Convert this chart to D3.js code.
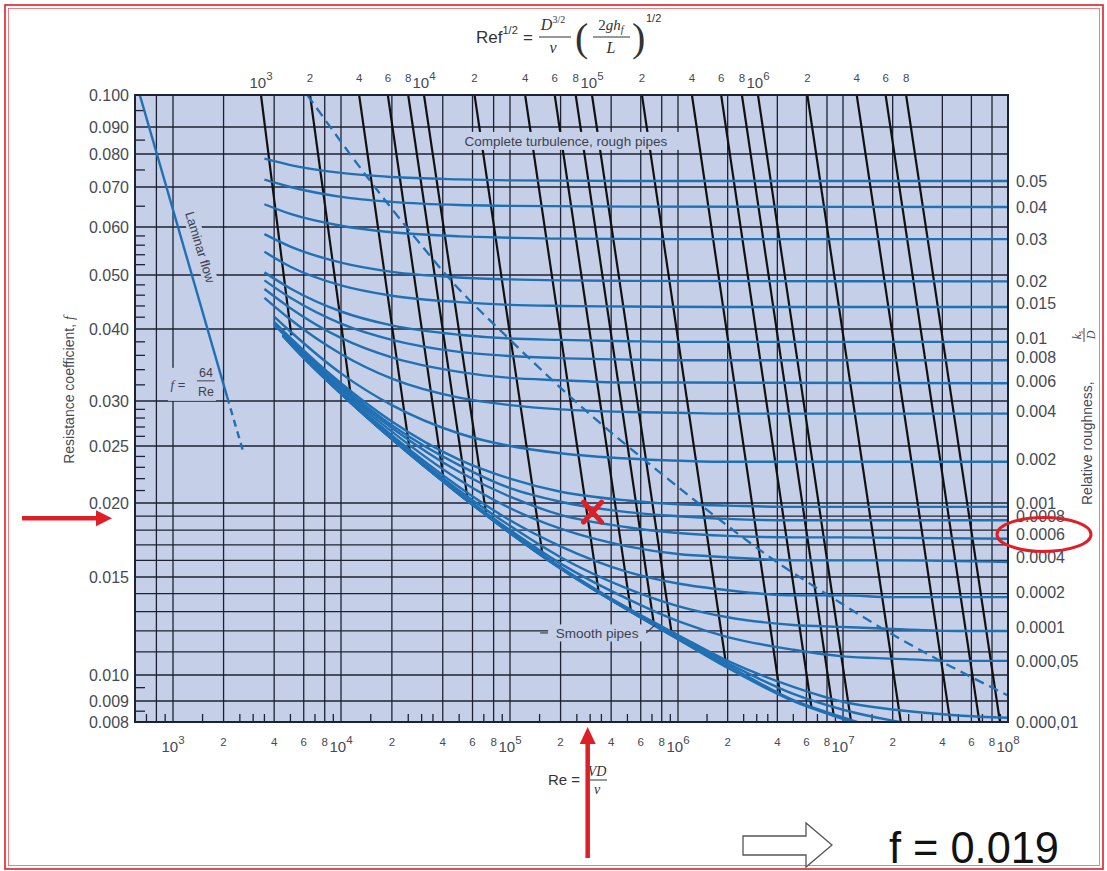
<!DOCTYPE html>
<html>
<head>
<meta charset="utf-8">
<script src="https://cdn.jsdelivr.net/npm/d3@7"></script>
<style>
  body { margin: 0; background: #fff; }
  svg { display: block; font-family: "Liberation Sans", Arial, sans-serif; }
</style>
</head>
<body>
<svg id="chart" width="1107" height="871"></svg>
<script>
// ---- data ----

// bottom axis, Reynolds number
const reTicks = [1e3, 2e3, 4e3, 6e3, 8e3, 1e4, 2e4, 4e4, 6e4, 8e4, 1e5, 2e5, 4e5, 6e5, 8e5,
                 1e6, 2e6, 4e6, 6e6, 8e6, 1e7, 2e7, 4e7, 6e7, 8e7, 1e8];
const reGrid = [800, 1e3, 2e3, 4e3, 6e3, 8e3, 1e4, 2e4, 4e4, 6e4, 8e4, 1e5, 2e5, 4e5, 6e5, 8e5,
                1e6, 2e6, 4e6, 6e6, 8e6, 1e7, 2e7, 4e7, 6e7, 8e7];
const reMinorMult = [1.5, 2.5, 3, 3.5, 5, 7, 9];

// top axis, Re f^1/2 (one black line per value)
const topTicks = [1e3, 2e3, 4e3, 6e3, 8e3, 1e4, 2e4, 4e4, 6e4, 8e4, 1e5, 2e5, 4e5, 6e5, 8e5,
                  1e6, 2e6, 4e6, 6e6, 8e6];
// where each black line stops: [Re f^1/2, Re, f]
const blackLines = [
  [1e3, 5.06e3, 0.0390], [2e3, 1.16e4, 0.0297], [4e3, 2.56e4, 0.0244], [6e3, 4.05e4, 0.0219],
  [8e3, 5.6e4, 0.0204], [1e4, 7.2e4, 0.0193], [2e4, 1.56e5, 0.0164], [4e4, 3.36e5, 0.0142],
  [6e4, 5.25e5, 0.0130], [8e4, 7.2e5, 0.0123], [1e5, 9.2e5, 0.0118], [2e5, 1.96e6, 0.0104],
  [4e5, 4.16e6, 0.00924], [6e5, 6.45e6, 0.00864], [8e5, 8.8e6, 0.00826], [1e6, 1.12e7, 0.008],
  [2e6, 2.24e7, 0.008], [4e6, 4.47e7, 0.008], [6e6, 6.71e7, 0.008], [8e6, 8.94e7, 0.008]
];

// left axis, resistance coefficient
const fTicks = [0.1, 0.09, 0.08, 0.07, 0.06, 0.05, 0.04, 0.03, 0.025, 0.02, 0.015, 0.01, 0.009, 0.008];
const fTickLabels = ["0.100", "0.090", "0.080", "0.070", "0.060", "0.050", "0.040", "0.030",
                     "0.025", "0.020", "0.015", "0.010", "0.009", "0.008"];
const fGrid = [0.09, 0.08, 0.07, 0.06, 0.05, 0.04, 0.03, 0.025, 0.02, 0.019, 0.018, 0.017, 0.016,
               0.015, 0.014, 0.013, 0.012, 0.011, 0.01, 0.009];
const fMinor = [0.095, 0.085, 0.075, 0.065, 0.058, 0.056, 0.054, 0.052, 0.048, 0.046, 0.044, 0.042,
                0.038, 0.036, 0.034, 0.032, 0.029, 0.028, 0.027, 0.026, 0.024, 0.023, 0.022, 0.021,
                0.0095, 0.0085];

// relative roughness curves, [Re, f]
const c05 = [[3.5e3, .0785], [5e3, .0765], [1e4, .0741], [2e4, .0729], [5e4, .0722], [1e5, .0719], [5e5, .0717], [1e8, .0717]];
const c04 = [[3.5e3, .0721], [5e3, .0700], [1e4, .0674], [2e4, .0661], [5e4, .0653], [1e5, .0651], [5e5, .0649], [1e8, .0648]];
const c03 = [[3.5e3, .0655], [5e3, .0631], [1e4, .0603], [2e4, .0588], [5e4, .0579], [1e5, .0576], [2e5, .0574], [1e6, .0573], [1e8, .0573]];
const c02 = [[3.5e3, .0584], [5e3, .0557], [1e4, .0524], [2e4, .0506], [5e4, .0495], [1e5, .0491], [2e5, .0489], [5e5, .0488], [1e8, .0487]];
const c015 = [[3.5e3, .0546], [5e3, .0516], [1e4, .0479], [2e4, .0459], [5e4, .0447], [1e5, .0442], [2e5, .0440], [5e5, .0439], [2e6, .0438], [1e8, .0438]];
const c01 = [[3.5e3, .0505], [5e3, .0473], [1e4, .0430], [2e4, .0406], [5e4, .0391], [1e5, .0385], [2e5, .0383], [5e5, .0381], [1e6, .0380], [1e8, .0380]];
const c008 = [[3.5e3, .0489], [5e3, .0455], [1e4, .0409], [2e4, .0383], [5e4, .0365], [1e5, .0359], [2e5, .0356], [5e5, .0354], [1e6, .0353], [1e8, .0353]];
const c006 = [[3.5e3, .0472], [5e3, .0436], [1e4, .0386], [2e4, .0357], [5e4, .0337], [1e5, .0329], [2e5, .0326], [5e5, .0323], [1e6, .0323], [1e8, .0322]];
const c004 = [[3.5e3, .0455], [5e3, .0416], [1e4, .0362], [2e4, .0328], [5e4, .0304], [1e5, .0295], [2e5, .0290], [5e5, .0287], [1e6, .0286], [2e6, .0285], [1e8, .0285]];
const c002 = [[4e3, .0421], [5e3, .0396], [1e4, .0335], [2e4, .0295], [5e4, .0263], [1e5, .0250], [2e5, .0243], [5e5, .0238], [1e6, .0236], [2e6, .0235], [1e7, .0235], [1e8, .0235]];
const c001 = [[4e3, .0412], [5e3, .0386], [1e4, .0322], [2e4, .0276], [5e4, .0237], [1e5, .0220], [2e5, .0209], [5e5, .0202], [1e6, .0199], [2e6, .0198], [5e6, .0197], [1e8, .0197]];
const c0008 = [[4e3, .0410], [5e3, .0384], [1e4, .0319], [2e4, .0272], [5e4, .0232], [1e5, .0212], [2e5, .0201], [5e5, .0193], [1e6, .0190], [2e6, .0188], [5e6, .0187], [1e7, .0187], [1e8, .0187]];
const c0006 = [[4e3, .0409], [5e3, .0382], [1e4, .0316], [2e4, .0269], [5e4, .0226], [1e5, .0205], [2e5, .0191], [5e5, .0182], [1e6, .0178], [2e6, .0176], [5e6, .0175], [1e7, .0175], [1e8, .0174]];
const c0004 = [[4e3, .0407], [5e3, .0381], [1e4, .0314], [2e4, .0265], [5e4, .0219], [1e5, .0196], [2e5, .0181], [5e5, .0169], [1e6, .0164], [2e6, .0162], [5e6, .0160], [1e7, .0160], [2e7, .0160], [1e8, .0159]];
const c0002 = [[4.5e3, .0391], [5e3, .0379], [1e4, .0311], [2e4, .0261], [5e4, .0213], [1e5, .0187], [2e5, .0169], [5e5, .0153], [1e6, .0146], [2e6, .0142], [5e6, .0139], [1e7, .0139], [2e7, .0138], [5e7, .0138], [1e8, .0138]];
const c0001 = [[4.5e3, .0390], [5e3, .0378], [1e4, .0310], [2e4, .0259], [5e4, .0210], [1e5, .0183], [2e5, .0162], [5e5, .0143], [1e6, .0133], [2e6, .0127], [5e6, .0123], [1e7, .0122], [2e7, .0121], [5e7, .0120], [1e8, .0120]];
const c00005 = [[4.5e3, .0390], [5e3, .0378], [1e4, .0309], [2e4, .0258], [5e4, .0208], [1e5, .0180], [2e5, .0158], [5e5, .0137], [1e6, .0125], [2e6, .0117], [5e6, .0111], [1e7, .0108], [2e7, .0107], [5e7, .0106], [1e8, .0106]];
const c00001 = [[4.5e3, .0390], [5e3, .0377], [1e4, .0309], [2e4, .0258], [5e4, .0207], [1e5, .0179], [2e5, .0156], [5e5, .0132], [1e6, .0118], [2e6, .0106], [5e6, .00953], [1e7, .00896], [2e7, .00858], [5e7, .00830], [1e8, .00819]];
const c000005 = [[4.5e3, .0390], [5e3, .0377], [1e4, .0309], [2e4, .0257], [5e4, .0207], [1e5, .0178], [2e5, .0155], [5e5, .0131], [1e6, .0117], [2e6, .0105], [5e6, .00926], [1e7, .00857], [2e7, .00806], [5e7, .00765]];
const c000001 = [[4.5e3, .0390], [5e3, .0377], [1e4, .0309], [2e4, .0257], [5e4, .0207], [1e5, .0178], [2e5, .0155], [5e5, .0131], [1e6, .0116], [2e6, .0104], [5e6, .00903], [1e7, .00821], [2e7, .00753]];
const cSmooth = [[4.5e3, .0390], [5e3, .0377], [1e4, .0309], [2e4, .0257], [5e4, .0207], [1e5, .0178], [2e5, .0155], [5e5, .0131], [1e6, .0116], [2e6, .0103], [5e6, .00899], [1e7, .00813], [2e7, .00739]];

const roughCurves = [c05, c04, c03, c02, c015, c01, c008, c006, c004, c002, c001, c0008, c0006,
                     c0004, c0002, c0001, c00005, c00001, c000005, c000001, cSmooth];
const roughLabels = ["0.05", "0.04", "0.03", "0.02", "0.015", "0.01", "0.008", "0.006", "0.004",
                     "0.002", "0.001", "0.0008", "0.0006", "0.0004", "0.0002", "0.0001",
                     "0.000,05", "0.000,01"];
const roughLabelF = [0.0717, 0.0648, 0.0573, 0.0487, 0.0445, 0.0385, 0.0357, 0.0325, 0.0288,
                     0.0237, 0.0200, 0.0190, 0.0177, 0.0162, 0.0141, 0.0122, 0.0106, 0.0080];

// complete-turbulence boundary (dashed) and laminar line
const roughBoundary = [[6.3e3, 0.1], [1.49e4, 0.0717], [1.96e4, 0.0648], [2.79e4, 0.0573],
  [4.53e4, 0.0487], [1.03e5, 0.038], [2.96e5, 0.0285], [6.52e5, 0.0235], [1.42e6, 0.0197],
  [3.97e6, 0.0159], [8.5e6, 0.0138], [1.83e7, 0.012], [3.89e7, 0.0106], [1e8, 0.0092]];
const laminarSolid = [[640, 0.1], [2100, 0.0305]];
const laminarDashed = [[2100, 0.0305], [2600, 0.0246]];

// worked example marked in red
const pointRe = 3.1e5, pointF = 0.0193;
const arrowRe = 2.9e5, arrowF = 0.019;
const answer = "f = 0.019";

// ---- layout ----
const svg = d3.select("#chart");
const plot = { left: 135, right: 1008, top: 95, bottom: 722 };
const BG = "#c5d0e8", GRID = "#1c2233", BLUE = "#2170b4", INK = "#111", TXT = "#454a55", RED = "#dc2026";

// the scan is not perfectly logarithmic, so both axes are calibrated on their labelled values
const fTickY = [95, 127, 154, 187, 227, 275, 329, 401, 446, 503, 577, 675, 701, 722];
const x = d3.scaleLog().domain([600, 1e3, 1e4, 1e5, 1e6, 1e7, 1e8])
  .range([135, 173, 341, 510, 678, 843, 1008]);
const xTop = d3.scaleLog().domain([1e3, 1e4, 1e5, 1e6, 1e7]).range([261, 424, 592, 758, 922]);
const y = d3.scaleLog().domain(fTicks).range(fTickY);

// red double frame round the slide
svg.append("rect").attr("x", 5).attr("y", 5).attr("width", 1098).attr("height", 864)
  .attr("fill", "none").attr("stroke", RED).attr("stroke-width", 1.6);
svg.append("rect").attr("x", 8.5).attr("y", 8.5).attr("width", 1091).attr("height", 857)
  .attr("fill", "none").attr("stroke", RED).attr("stroke-width", 0.8).attr("opacity", 0.7);

svg.append("rect")
  .attr("x", plot.left).attr("y", plot.top)
  .attr("width", plot.right - plot.left).attr("height", plot.bottom - plot.top)
  .attr("fill", BG);

// grid
const grid = svg.append("g").attr("stroke", GRID).attr("stroke-width", 1.3);
grid.selectAll("line.v").data(reGrid).join("line").attr("class", "v")
  .attr("x1", d => x(d)).attr("x2", d => x(d))
  .attr("y1", plot.top).attr("y2", plot.bottom);
grid.selectAll("line.h").data(fGrid).join("line").attr("class", "h")
  .attr("x1", plot.left).attr("x2", plot.right)
  .attr("y1", d => y(d)).attr("y2", d => y(d));

// minor ticks
const reMinor = [];
for (let e = 2; e < 8; e++) reMinorMult.forEach(m => {
  const v = m * Math.pow(10, e);
  if (v > 600 && v < 1e8) reMinor.push(v);
});
grid.selectAll("line.bt").data(reMinor).join("line").attr("class", "bt")
  .attr("x1", d => x(d)).attr("x2", d => x(d))
  .attr("y1", plot.bottom).attr("y2", plot.bottom - 8);
grid.selectAll("line.lt").data(fMinor).join("line").attr("class", "lt")
  .attr("x1", plot.left).attr("x2", plot.left + 10)
  .attr("y1", d => y(d)).attr("y2", d => y(d));

// clipped data layer
svg.append("clipPath").attr("id", "plotClip").append("rect")
  .attr("x", plot.left).attr("y", plot.top)
  .attr("width", plot.right - plot.left).attr("height", plot.bottom - plot.top);
const layer = svg.append("g").attr("clip-path", "url(#plotClip)");

// lines of constant Re f^1/2
layer.selectAll("line.rf").data(blackLines).join("line").attr("class", "rf")
  .attr("x1", d => xTop(d[0])).attr("y1", y(0.1))
  .attr("x2", d => x(d[1])).attr("y2", d => y(d[2]))
  .attr("stroke", INK).attr("stroke-width", 2.2);

const line = d3.line().x(d => x(d[0])).y(d => y(d[1])).curve(d3.curveMonotoneX);

layer.selectAll("path.rough").data(roughCurves).join("path").attr("class", "rough")
  .attr("d", line).attr("fill", "none").attr("stroke", BLUE).attr("stroke-width", 2.4);

layer.append("path").attr("d", line(roughBoundary)).attr("fill", "none")
  .attr("stroke", BLUE).attr("stroke-width", 2.3).attr("stroke-dasharray", "10,6");

layer.append("path").attr("d", line(laminarSolid)).attr("fill", "none")
  .attr("stroke", BLUE).attr("stroke-width", 2.4);
layer.append("path").attr("d", line(laminarDashed)).attr("fill", "none")
  .attr("stroke", BLUE).attr("stroke-width", 2.4).attr("stroke-dasharray", "7,5");

// in-plot labels on their own background patch
function patchLabel(cx, cy, w, h, angle) {
  const g = svg.append("g").attr("transform", `translate(${cx},${cy}) rotate(${angle})`);
  g.append("rect").attr("x", -w / 2).attr("y", -h / 2).attr("width", w).attr("height", h).attr("fill", BG);
  return g;
}
let g = patchLabel(x(2.15e5), y(0.0847), 238, 18, 0);
g.append("text").attr("text-anchor", "middle").attr("dy", "0.35em")
  .attr("font-size", 13.5).attr("fill", "#3c4250").text("Complete turbulence, rough pipes");

const spX = x(3.3e5), spY = y(0.0119);
svg.append("line").attr("x1", spX - 57).attr("x2", spX - 49).attr("y1", spY).attr("y2", spY)
  .attr("stroke", "#3c4250").attr("stroke-width", 1.2);
svg.append("line").attr("x1", spX + 49).attr("x2", x(7.3e5)).attr("y1", spY).attr("y2", y(0.0123))
  .attr("stroke", "#3c4250").attr("stroke-width", 1.2);
g = patchLabel(spX, spY, 98, 17, 0);
g.append("text").attr("text-anchor", "middle").attr("dy", "0.35em")
  .attr("font-size", 13.5).attr("fill", "#3c4250").text("Smooth pipes");

g = patchLabel(x(1450), y(0.0556), 94, 15, 73);
g.append("text").attr("text-anchor", "middle").attr("dy", "0.35em")
  .attr("font-size", 13).attr("fill", "#3c4250").text("Laminar flow");

g = svg.append("g").attr("transform", `translate(${x(1070)},${y(0.032)})`);
g.append("rect").attr("x", -10).attr("y", -17).attr("width", 48).attr("height", 33).attr("fill", BG);
g.append("text").attr("text-anchor", "middle").attr("dy", "0.35em").attr("font-size", 13)
  .attr("fill", "#3c4250")
  .call(t => { t.append("tspan").attr("font-family", "Liberation Serif").attr("font-style", "italic").text("f"); t.append("tspan").text(" ="); });
g.append("text").attr("x", 28).attr("y", -8).attr("text-anchor", "middle").attr("font-size", 12.5)
  .attr("fill", "#3c4250").text("64");
g.append("line").attr("x1", 19).attr("x2", 37).attr("y1", -4).attr("y2", -4).attr("stroke", "#3c4250");
g.append("text").attr("x", 28).attr("y", 11).attr("text-anchor", "middle").attr("font-size", 12.5)
  .attr("fill", "#3c4250").text("Re");

// plot frame
svg.append("rect")
  .attr("x", plot.left).attr("y", plot.top)
  .attr("width", plot.right - plot.left).attr("height", plot.bottom - plot.top)
  .attr("fill", "none").attr("stroke", GRID).attr("stroke-width", 2);

// axis labels: decades as 10^n, the rest as their leading digit
function decadeLabel(sel, d, big, small) {
  const e = Math.floor(Math.log10(d) + 1e-9);
  const m = Math.round(d / Math.pow(10, e));
  if (m === 1) {
    sel.attr("font-size", big).attr("dy", 6).text("10")
      .append("tspan").attr("font-size", small).attr("dy", -8).text(e);
  } else {
    sel.attr("font-size", small).text(m);
  }
}
svg.append("g").attr("fill", TXT).attr("text-anchor", "middle")
  .selectAll("text").data(reTicks).join("text")
  .attr("x", d => x(d)).attr("y", 746)
  .each(function (d) { decadeLabel(d3.select(this), d, 15, 11.5); });
svg.append("g").attr("fill", TXT).attr("text-anchor", "middle")
  .selectAll("text").data(topTicks).join("text")
  .attr("x", d => xTop(d)).attr("y", 82)
  .each(function (d) { decadeLabel(d3.select(this), d, 15, 11.5); });

svg.append("g").attr("fill", TXT).attr("text-anchor", "end").attr("font-size", 16)
  .selectAll("text").data(fTicks).join("text")
  .attr("x", plot.left - 6).attr("y", d => y(d)).attr("dy", "0.35em")
  .text((d, i) => fTickLabels[i]);

svg.append("g").attr("fill", TXT).attr("font-size", 16)
  .selectAll("text").data(roughLabels).join("text")
  .attr("x", plot.right + 8).attr("y", (d, i) => y(roughLabelF[i])).attr("dy", "0.35em")
  .text(d => d);

// axis titles
svg.append("text").attr("transform", "translate(74,390) rotate(-90)")
  .attr("text-anchor", "middle").attr("font-size", 14).attr("fill", TXT)
  .call(t => {
    t.append("tspan").text("Resistance coefficient, ");
    t.append("tspan").attr("font-family", "Liberation Serif").attr("font-style", "italic").text("f");
  });

g = svg.append("g").attr("transform", "translate(1087,505) rotate(-90)").attr("fill", TXT);
g.append("text").attr("dy", "0.35em").attr("font-size", 14).text("Relative roughness,");
g.append("text").attr("x", 170).attr("y", -6).attr("text-anchor", "middle").attr("font-size", 12)
  .attr("font-family", "Liberation Serif").attr("font-style", "italic")
  .call(t => { t.append("tspan").text("k"); t.append("tspan").attr("font-size", 8).attr("dy", 2).text("s"); });
g.append("line").attr("x1", 163).attr("x2", 177).attr("y1", -3).attr("y2", -3).attr("stroke", TXT);
g.append("text").attr("x", 170).attr("y", 8).attr("text-anchor", "middle").attr("font-size", 12)
  .attr("font-family", "Liberation Serif").attr("font-style", "italic").text("D");

// top formula: Re f^1/2 = D^3/2 / nu (2 g h_f / L)^1/2
g = svg.append("g").attr("fill", "#333");
g.append("text").attr("x", 476).attr("y", 43).attr("font-size", 17)
  .call(t => { t.append("tspan").text("Ref"); t.append("tspan").attr("font-size", 11).attr("dy", -9).text("1/2"); });
g.append("text").attr("x", 523).attr("y", 43).attr("font-size", 17).text("=");
g.append("text").attr("x", 553).attr("y", 30).attr("text-anchor", "middle").attr("font-size", 16)
  .attr("font-family", "Liberation Serif").attr("font-style", "italic")
  .call(t => { t.append("tspan").text("D"); t.append("tspan").attr("font-size", 10).attr("font-style", "normal").attr("dy", -7).text("3/2"); });
g.append("line").attr("x1", 539).attr("x2", 571).attr("y1", 37).attr("y2", 37).attr("stroke", "#333");
g.append("text").attr("x", 553).attr("y", 53).attr("text-anchor", "middle").attr("font-size", 16)
  .attr("font-family", "Liberation Serif").attr("font-style", "italic").text("ν");
g.append("text").attr("x", 575).attr("y", 51).attr("font-size", 40).attr("font-family", "Liberation Serif")
  .text("(");
g.append("text").attr("x", 611).attr("y", 30).attr("text-anchor", "middle").attr("font-size", 15)
  .attr("font-family", "Liberation Serif").attr("font-style", "italic")
  .call(t => { t.append("tspan").attr("font-style", "normal").text("2"); t.append("tspan").text("gh"); t.append("tspan").attr("font-size", 10).attr("dy", 3).text("f"); });
g.append("line").attr("x1", 593).attr("x2", 630).attr("y1", 37).attr("y2", 37).attr("stroke", "#333");
g.append("text").attr("x", 611).attr("y", 53).attr("text-anchor", "middle").attr("font-size", 16)
  .attr("font-family", "Liberation Serif").attr("font-style", "italic").text("L");
g.append("text").attr("x", 632).attr("y", 51).attr("font-size", 40).attr("font-family", "Liberation Serif")
  .text(")");
g.append("text").attr("x", 646).attr("y", 22).attr("font-size", 11).text("1/2");

// bottom formula: Re = VD / nu
g = svg.append("g").attr("fill", "#333");
g.append("text").attr("x", 548).attr("y", 785).attr("font-size", 15).text("Re =");
g.append("text").attr("x", 597).attr("y", 776).attr("text-anchor", "middle").attr("font-size", 14)
  .attr("font-family", "Liberation Serif").attr("font-style", "italic").text("VD");
g.append("line").attr("x1", 588).attr("x2", 607).attr("y1", 780).attr("y2", 780).attr("stroke", "#333");
g.append("text").attr("x", 597).attr("y", 794).attr("text-anchor", "middle").attr("font-size", 14)
  .attr("font-family", "Liberation Serif").attr("font-style", "italic").text("ν");

// red annotations
const px = x(pointRe), py = y(pointF);
svg.append("path").attr("d", `M${px - 9},${py - 10}L${px + 9},${py + 10}M${px + 9},${py - 10}L${px - 9},${py + 10}`)
  .attr("stroke", RED).attr("stroke-width", 5).attr("stroke-linecap", "round");

const ay = y(arrowF) + 2;
svg.append("line").attr("x1", 22).attr("x2", 98).attr("y1", ay).attr("y2", ay)
  .attr("stroke", RED).attr("stroke-width", 4.5);
svg.append("path").attr("d", `M96,${ay - 8}L112,${ay}L96,${ay + 8}Z`).attr("fill", RED);

const ax = x(arrowRe);
svg.append("line").attr("x1", ax).attr("x2", ax).attr("y1", 858).attr("y2", 742)
  .attr("stroke", RED).attr("stroke-width", 4.5);
svg.append("path").attr("d", `M${ax - 8},${744}L${ax},${727}L${ax + 8},${744}Z`).attr("fill", RED);

const circleY = y(roughLabelF[12]);
svg.append("ellipse").attr("cx", 1044).attr("cy", circleY).attr("rx", 47).attr("ry", 17)
  .attr("fill", "none").attr("stroke", RED).attr("stroke-width", 3);

// result
svg.append("path").attr("d", "M743,836L806,836L806,823L832,845L806,867L806,855L743,855Z")
  .attr("fill", "#fff").attr("stroke", "#555").attr("stroke-width", 1.3);
svg.append("text").attr("x", 889).attr("y", 863).attr("font-size", 44).attr("fill", "#111")
  .attr("textLength", 170).attr("lengthAdjust", "spacingAndGlyphs").text(answer);
</script>
</body>
</html>
